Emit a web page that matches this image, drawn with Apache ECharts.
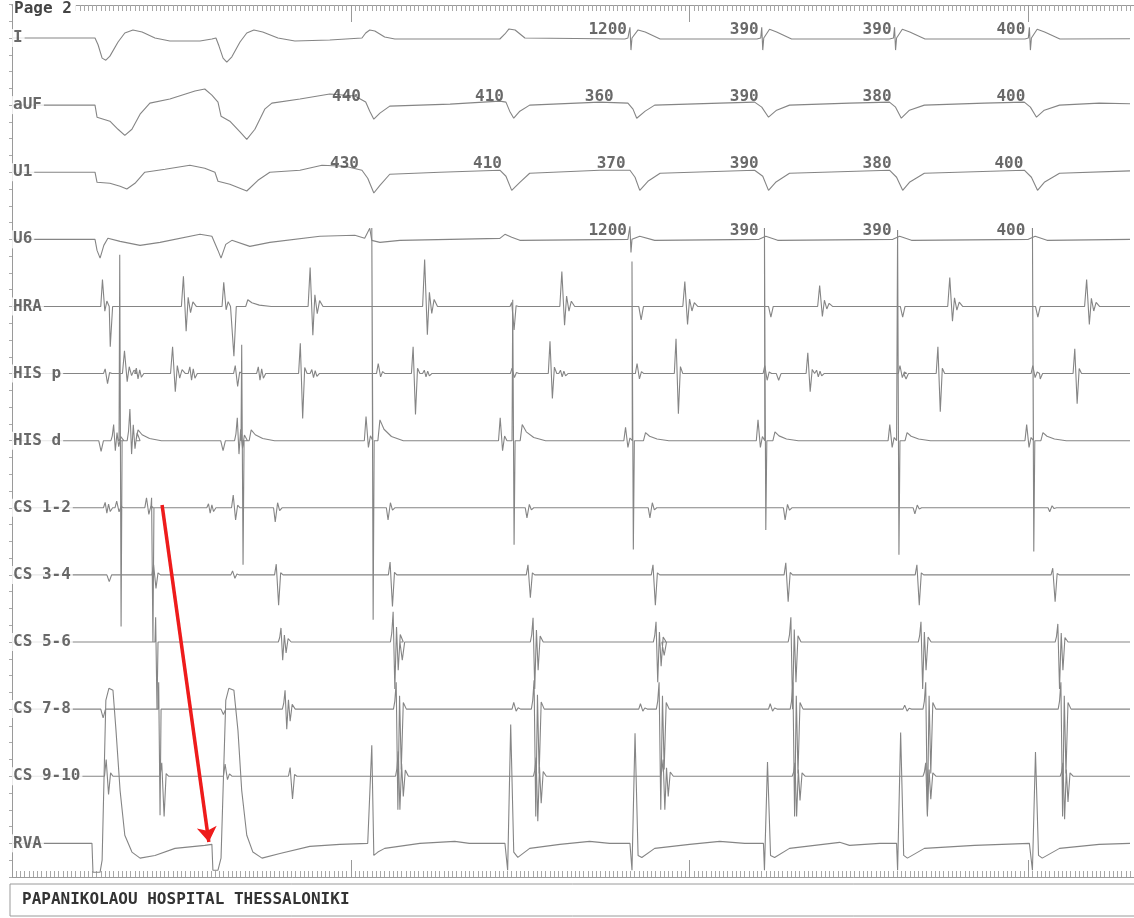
<!DOCTYPE html>
<html>
<head>
<meta charset="utf-8">
<title>Page 2</title>
<script src="https://cdn.jsdelivr.net/npm/echarts@6/dist/echarts.min.js"></script>
<style>
html, body { margin: 0; padding: 0; background: #fff; }
#chart { width: 1134px; height: 918px; }
</style>
</head>
<body>
<div id="chart"></div>
<script>
// time in ms, amplitude in channel units (10 units between two channels)
var channelNames = ['I', 'aUF', 'U1', 'U6', 'HRA', 'HIS p', 'HIS d', 'CS 1-2', 'CS 3-4', 'CS 5-6', 'CS 7-8', 'CS 9-10', 'RVA'];
var sweepMs = 3300;

// surface leads and RVA: traced points [ms, value]
var leadI = [[0,0],[245,0],[254,-1.0],[266,-3.0],[277,-3.3],[289,-2.7],[313,-0.6],[333,0.75],[357,1.2],[384,0.9],[422,0],[466,-0.45],[555,-0.45],[590,-0.15],[602,0],[611,-1.2],[623,-3.0],[634,-3.6],[649,-2.8],[673,-0.6],[693,0.75],[714,1.2],[740,0.9],[785,0],[835,-0.45],[938,-0.3],[1033,0],[1044,0.75],[1056,1.2],[1071,1.05],[1100,0.15],[1130,-0.15],[1440,-0.15],[1455,0.6],[1467,1.35],[1485,1.2],[1514,0],[1809,-0.15],[1818,0],[1824,1.6],[1827,-1.8],[1830,0],[1848,1.2],[1869,0.9],[1913,-0.15],[2199,-0.15],[2210,0],[2213,1.6],[2216,-1.8],[2219,0],[2236,1.3],[2257,0.9],[2301,-0.15],[2590,-0.15],[2602,0],[2605,1.6],[2608,-1.8],[2611,0],[2628,1.3],[2650,0.9],[2695,-0.15],[2990,-0.15],[3000,0],[3003,1.6],[3006,-1.8],[3009,0],[3026,1.3],[3048,0.9],[3093,-0.15],[3300,-0.1]];
var leadAVF = [[0,0],[245,0],[251,-1.8],[289,-2.4],[313,-3.6],[333,-4.5],[354,-3.6],[378,-1.35],[407,0.3],[466,0.9],[540,2.1],[569,2.4],[590,1.5],[608,0.45],[617,-1.65],[643,-2.4],[673,-4.0],[693,-5.1],[717,-3.6],[746,-0.6],[767,0.3],[850,0.9],[938,1.65],[1012,1.35],[1044,0.45],[1056,-0.9],[1068,-2.1],[1086,-1.2],[1115,-0.15],[1293,0.15],[1440,0.6],[1458,0.45],[1469,-0.9],[1481,-1.95],[1499,-0.9],[1528,0],[1735,0.45],[1818,0.3],[1833,-0.6],[1844,-1.95],[1869,-0.9],[1897,0],[2089,0.3],[2192,0.45],[2213,-0.3],[2233,-1.8],[2257,-0.75],[2295,0],[2472,0.3],[2590,0.45],[2608,-0.3],[2625,-1.95],[2649,-0.75],[2693,0],[2870,0.3],[2988,0.45],[3006,-0.3],[3024,-1.8],[3047,-0.75],[3092,0],[3209,0.3],[3300,0.2]];
var leadV1 = [[0,0],[245,0],[251,-1.5],[289,-1.65],[319,-2.1],[339,-2.5],[363,-1.65],[392,0],[452,0.45],[525,1.05],[569,0.6],[599,0],[608,-1.35],[643,-1.8],[693,-2.8],[726,-1.2],[761,0],[850,0.3],[915,1.05],[983,0.9],[1033,0.3],[1050,-0.9],[1068,-3.1],[1086,-1.95],[1115,-0.3],[1263,0],[1440,0.3],[1458,-0.6],[1475,-2.7],[1499,-1.5],[1528,-0.15],[1735,0.3],[1824,0.3],[1839,-0.75],[1853,-2.7],[1877,-1.35],[1913,-0.15],[2192,0.3],[2216,-0.6],[2233,-2.7],[2254,-1.5],[2295,-0.15],[2590,0.3],[2611,-0.75],[2629,-2.7],[2649,-1.5],[2693,-0.15],[2988,0.3],[3009,-0.75],[3027,-2.7],[3047,-1.5],[3092,-0.15],[3300,0.2]];
var leadV6 = [[0,0],[245,0],[251,-1.65],[260,-2.8],[271,-0.9],[283,0.15],[319,-0.3],[378,-0.9],[437,-0.45],[555,0.75],[590,0.45],[608,-1.65],[617,-2.8],[631,-0.75],[649,-0.15],[702,-1.05],[761,-0.45],[909,0.45],[1012,0.6],[1041,0.15],[1056,1.65],[1062,-0.15],[1086,-0.45],[1145,-0.15],[1440,0.15],[1455,0.75],[1475,0.3],[1499,-0.15],[1818,0],[1824,1.95],[1827,-1.95],[1830,0],[1853,0.45],[1897,-0.15],[2205,0],[2225,0.45],[2260,-0.15],[2600,0],[2620,0.45],[2655,-0.15],[3000,0],[3020,0.45],[3055,-0.15],[3300,0]];
var rva = [[0,0],[236,0],[239,-4.3],[260,-4.3],[266,-2.5],[277,21.3],[286,23.1],[298,22.8],[307,16.8],[319,7.9],[333,1.2],[354,-1.3],[378,-2.2],[422,-1.8],[481,-0.75],[569,-0.3],[590,-0.15],[593,-4.0],[608,-4.0],[617,-2.2],[631,21.3],[640,23.1],[655,22.8],[667,16.8],[678,7.9],[693,1.2],[711,-1.3],[738,-2.2],[791,-1.5],[879,-0.45],[968,-0.15],[1050,0],[1062,14.6],[1068,-1.8],[1080,-1.3],[1100,-0.75],[1204,0],[1307,0.3],[1350,0],[1455,0],[1463,-4.0],[1472,17.7],[1481,-1.3],[1493,-2.1],[1528,-0.75],[1617,-0.15],[1705,0.3],[1764,0],[1824,0],[1830,-4.0],[1839,16.4],[1848,-1.8],[1859,-2.1],[1897,-0.75],[2000,-0.15],[2089,0.3],[2163,0],[2218,0],[2221,-4],[2230,12.1],[2239,-1.8],[2251,-2.1],[2295,-0.75],[2443,0.15],[2472,-0.3],[2561,0],[2611,0],[2614,-4],[2623,16.5],[2632,-1.8],[2643,-2.2],[2693,-0.75],[2841,-0.3],[3003,0],[3012,-4],[3021,13.6],[3030,-1.8],[3041,-2.2],[3092,-0.75],[3209,-0.15],[3300,0]];

// intracardiac deflection shapes: [dt ms, normalised value]
var shapes = {
  bi:   [[0,0],[5,1],[12,-1],[18,0.2],[25,0]],
  db:   [[0,0],[5,-1],[12,1],[18,-0.2],[25,0]],
  hra:  [[0,0],[6,1],[14,-1],[20,0.3],[27,-0.25],[34,0.15],[44,0]],
  ud3:  [[0,0],[4,0.3],[8,1],[13,-1],[18,0.5],[23,-0.6],[29,0.25],[38,0]],
  wig:  [[0,0],[5,1],[10,-1],[15,0.7],[20,-0.7],[27,0]],
  dip:  [[0,0],[7,-1],[14,0.25],[22,0]],
  hump: [[0,0],[6,1],[18,0.55],[40,0.2],[75,0]],
  big:  [[0,0],[2,1],[6,-1],[9,0]]
};

// events: [ms, shape, up size, down size]
var hraEvents = [[262,'bi',4.0,0.7],[283,'dip',0,6.0],[500,'hra',4.5,3.7],[620,'bi',3.6,0.5],[648,'dip',0,7.4],[690,'hump',1.0,0],[874,'hra',5.8,4.3],[1212,'hra',7.0,4.2],[1470,'bi',0.6,3.5],[1617,'hra',5.2,2.8],[1850,'dip',0,2.0],[1980,'hra',3.7,2.7],[2233,'dip',0,1.6],[2378,'hra',3.1,1.5],[2622,'dip',0,1.6],[2762,'hra',4.3,2.2],[3021,'dip',0,1.6],[3166,'hra',4.0,2.7]];
var hisPEvents = [[270,'bi',0.7,1.5],[326,'hra',3.4,1.2],[362,'wig',0.8,0.8],[468,'hra',4.0,2.7],[520,'wig',1.0,1.0],[654,'bi',1.2,1.9],[722,'wig',1.0,1.0],[846,'bi',4.5,6.7],[880,'wig',0.6,0.6],[1076,'bi',1.5,0.5],[1179,'bi',4.0,6.1],[1212,'wig',0.5,0.5],[1471,'bi',0.8,0.6],[1583,'bi',4.8,3.7],[1614,'wig',0.5,0.5],[1840,'bi',1.5,0.8],[1955,'bi',5.2,6.0],[2217,'bi',1.2,1.0],[2256,'dip',0,1.0],[2344,'bi',3.1,2.7],[2370,'wig',0.5,0.5],[2616,'bi',1.2,0.6],[2632,'dip',0,0.8],[2728,'bi',4.0,5.7],[3008,'bi',1.2,0.6],[3028,'dip',0,0.8],[3132,'bi',3.7,4.5]];
var hisDEvents = [[256,'dip',0,1.6],[292,'ud3',2.4,1.5],[316,'big',27.7,27.7],[340,'ud3',4.7,2.0],[366,'hump',1.6,0],[616,'dip',0,1.5],[657,'ud3',3.4,2.0],[676,'big',14.3,18.5],[700,'hump',1.6,0],[1040,'bi',3.6,1.0],[1060,'big',31.7,26.7],[1080,'hump',3.1,0],[1436,'bi',3.4,1.5],[1476,'big',21,15.5],[1500,'hump',2.4,0],[1806,'bi',2.0,1.0],[1828,'big',26.7,16.2],[1864,'hump',1.2,0],[2197,'bi',3.1,1.0],[2219,'big',31.7,13.3],[2246,'hump',1.3,0],[2586,'bi',2.4,1.0],[2612,'big',31.4,17],[2636,'hump',1.2,0],[2990,'bi',2.4,1.0],[3010,'big',31.7,16.5],[3037,'hump',1.2,0]];
var cs12Events = [[270,'wig',0.8,0.8],[304,'bi',1.0,0.6],[392,'bi',1.5,1.0],[410,'big',1.5,20],[575,'wig',0.6,0.8],[648,'bi',1.9,1.8],[772,'db',0.75,2.1],[1105,'db',0.75,1.8],[1515,'db',0.5,1.5],[1878,'db',0.75,1.5],[2277,'db',0.5,1.8],[2660,'db',0.4,0.9],[3058,'db',0.3,0.6]];
var cs34Events = [[280,'dip',0,1.0],[413,'bi',1.5,2.0],[646,'bi',0.6,0.5],[775,'bi',1.6,4.5],[1111,'bi',1.9,4.7],[1518,'bi',1.5,3.4],[1887,'bi',1.5,4.5],[2279,'bi',1.8,4.0],[2666,'bi',1.5,4.5],[3067,'bi',1.0,4.0]];
var cs56Events = [[422,'big',3.7,10],[786,'ud3',2.1,2.7],[1117,'ud3',4.5,7.0],[1145,'dip',0,2.7],[1530,'ud3',3.6,7.0],[1893,'ud3',3.0,6.0],[1918,'dip',0,2.0],[2291,'ud3',3.7,10],[2675,'ud3',3.0,7.0],[3079,'ud3',2.7,7.0]];
var cs78Events = [[262,'dip',0,1.3],[431,'big',4.0,15.8],[617,'dip',0,0.8],[798,'ud3',2.8,3.0],[1126,'ud3',4.0,15],[1476,'bi',1.0,0.3],[1533,'ud3',4.3,16],[1850,'bi',0.8,0.3],[1902,'ud3',4.0,15],[2233,'bi',0.8,0.3],[2297,'ud3',4.0,16],[2630,'bi',0.6,0.3],[2689,'ud3',4.0,16],[3088,'ud3',4.0,16]];
var cs910Events = [[273,'bi',2.5,2.7],[437,'bi',2.0,6.0],[624,'bi',1.8,0.5],[816,'bi',1.3,3.4],[1132,'ud3',3.7,5.0],[1539,'ud3',2.8,6.7],[1914,'ud3',2.5,5.0],[2303,'ud3',2.0,6.0],[2689,'ud3',2.0,5.7],[3094,'ud3',2.0,6.4]];

// cycle lengths printed on the surface leads: [ms, text]
var cyclesI = [[1818,'1200'],[2207,'390'],[2599,'390'],[2994,'400']];
var cyclesAVF = [[1033,'440'],[1455,'410'],[1779,'360'],[2207,'390'],[2599,'380'],[2994,'400']];
var cyclesV1 = [[1027,'430'],[1449,'410'],[1814,'370'],[2207,'390'],[2599,'380'],[2988,'400']];
var cyclesV6 = [[1818,'1200'],[2207,'390'],[2599,'390'],[2994,'400']];

var arrowFrom = [443, -69.6];
var arrowTo = [581, -119.8];

var monoFont = '"DejaVu Sans Mono", "Liberation Mono", monospace';

function fromKnots(k, knots) {
  var off = -10 * k;
  return knots.map(function (p) { return [p[0], off + p[1]]; });
}

function fromEvents(k, events) {
  var off = -10 * k;
  var pts = [[0, off]];
  events.forEach(function (e) {
    shapes[e[1]].forEach(function (p) {
      var v = p[1] >= 0 ? p[1] * e[2] : p[1] * e[3];
      pts.push([e[0] + p[0], off + v]);
    });
  });
  pts.push([sweepMs, off]);
  return pts;
}

var traces = [
  fromKnots(0, leadI),
  fromKnots(1, leadAVF),
  fromKnots(2, leadV1),
  fromKnots(3, leadV6),
  fromEvents(4, hraEvents),
  fromEvents(5, hisPEvents),
  fromEvents(6, hisDEvents),
  fromEvents(7, cs12Events),
  fromEvents(8, cs34Events),
  fromEvents(9, cs56Events),
  fromEvents(10, cs78Events),
  fromEvents(11, cs910Events),
  fromKnots(12, rva)
];

var series = traces.map(function (d, k) {
  return {
    type: 'line',
    name: channelNames[k],
    xAxisIndex: 0,
    yAxisIndex: 0,
    data: d,
    showSymbol: false,
    symbol: 'none',
    lineStyle: { color: '#858585', width: 1.1 },
    z: 2
  };
});

// channel names on the left
series.push({
  type: 'scatter',
  xAxisIndex: 0,
  yAxisIndex: 0,
  symbolSize: 0,
  z: 5,
  data: channelNames.map(function (n, k) { return [0, -10 * k, n]; }),
  label: {
    show: true,
    position: 'right',
    distance: 0,
    formatter: function (p) { return p.data[2]; },
    fontFamily: monoFont,
    fontSize: 16,
    fontWeight: 'bold',
    color: '#444',
    backgroundColor: '#fff',
    padding: [1, 2, 1, 1]
  }
});

// cycle length numbers
[cyclesI, cyclesAVF, cyclesV1, cyclesV6].forEach(function (arr, k) {
  series.push({
    type: 'scatter',
    xAxisIndex: 0,
    yAxisIndex: 0,
    symbolSize: 0,
    z: 5,
    data: arr.map(function (c) { return [c[0], -10 * k + 1.2, c[1]]; }),
    label: {
      show: true,
      position: 'left',
      distance: 1,
      formatter: function (p) { return p.data[2]; },
      fontFamily: monoFont,
      fontSize: 16,
      fontWeight: 'bold',
      color: '#444'
    }
  });
});

// red arrow
series.push({
  type: 'lines',
  coordinateSystem: 'cartesian2d',
  xAxisIndex: 0,
  yAxisIndex: 0,
  z: 6,
  symbol: ['none', 'arrow'],
  symbolSize: 15,
  lineStyle: { color: '#ee1b1b', width: 3.5, opacity: 1, curveness: 0 },
  data: [{ coords: [arrowFrom, arrowTo] }]
});

var rulerTick = { show: true, inside: true, length: 17, lineStyle: { color: '#9a9a9a', width: 1 } };
var rulerMinor = { show: true, splitNumber: 80, length: 6, lineStyle: { color: '#a8a8a8', width: 1 } };

var option = {
  animation: false,
  backgroundColor: '#fff',
  grid: [
    { left: 12, right: 4, top: 4.45, bottom: 41.1 },
    { left: 12, right: 0, top: 5, bottom: 41 }
  ],
  xAxis: [
    { type: 'value', gridIndex: 0, min: 0, max: sweepMs, show: false },
    {
      type: 'value', gridIndex: 1, position: 'top', min: 0, max: 3311.8, interval: 1000,
      axisLine: { show: true, onZero: false, lineStyle: { color: '#9a9a9a' } },
      axisTick: rulerTick, minorTick: rulerMinor,
      axisLabel: { show: false }, splitLine: { show: false }
    },
    {
      type: 'value', gridIndex: 1, position: 'bottom', min: 0, max: 3311.8, interval: 1000,
      axisLine: { show: true, onZero: false, lineStyle: { color: '#9a9a9a' } },
      axisTick: rulerTick, minorTick: rulerMinor,
      axisLabel: { show: false }, splitLine: { show: false }
    }
  ],
  yAxis: [
    {
      type: 'value', gridIndex: 0, min: -125, max: 5, interval: 2.5,
      axisLine: { show: true, onZero: false, lineStyle: { color: '#9a9a9a' } },
      axisTick: { show: true, length: 3, lineStyle: { color: '#aaa' } },
      axisLabel: { show: false }, splitLine: { show: false }
    },
    { type: 'value', gridIndex: 1, min: 0, max: 1, show: false }
  ],
  series: series,
  graphic: [
    {
      type: 'text', left: 13, top: 1, z: 100,
      style: { text: 'Page 2', font: 'bold 16px ' + monoFont, fill: '#444', backgroundColor: '#fff', padding: [0, 4, 2, 1] }
    },
    {
      type: 'rect', z: 100,
      shape: { x: 10, y: 884, width: 1130, height: 32 },
      style: { fill: '#fff', stroke: '#9a9a9a', lineWidth: 1 }
    },
    {
      type: 'text', left: 22, top: 892, z: 101,
      style: { text: 'PAPANIKOLAOU HOSPITAL THESSALONIKI', font: 'bold 16px ' + monoFont, fill: '#333' }
    }
  ]
};

var chart = echarts.init(document.getElementById('chart'));
chart.setOption(option);
</script>
</body>
</html>
